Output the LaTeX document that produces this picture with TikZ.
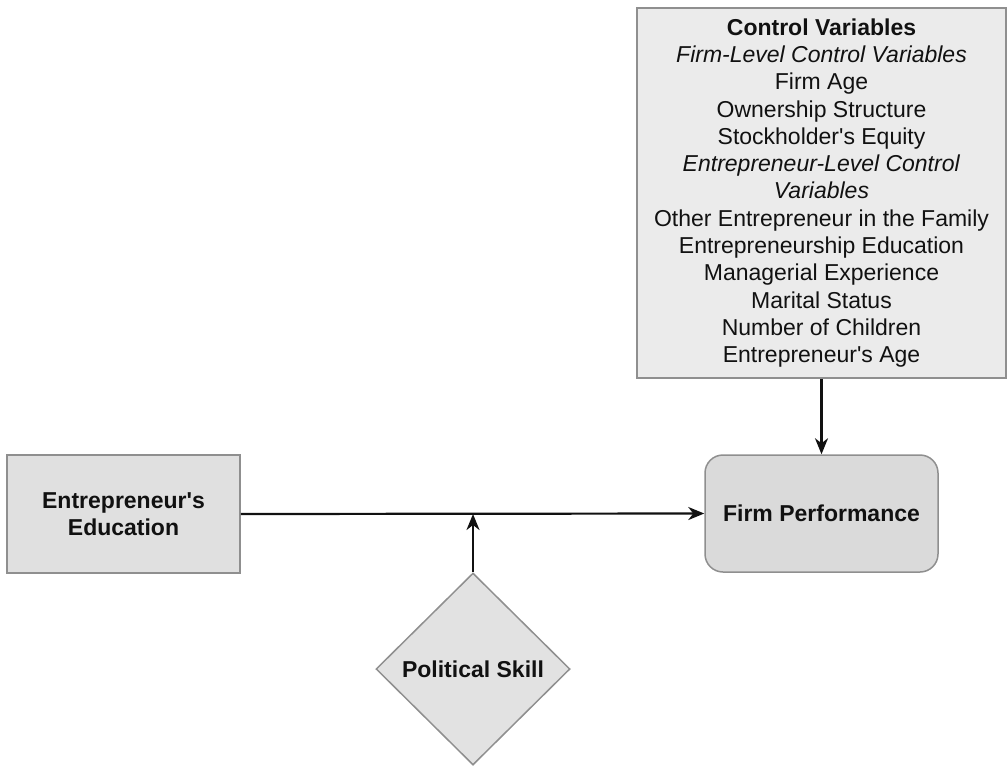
\documentclass[tikz,border=0pt]{standalone}
\usepackage{fontspec}
\setmainfont{Liberation Sans}
\usetikzlibrary{arrows.meta,shapes.geometric}
\definecolor{boxborder}{HTML}{8F8F8F}
\definecolor{ctrlfill}{HTML}{EBEBEB}
\definecolor{edufill}{HTML}{E0E0E0}
\definecolor{perffill}{HTML}{DADADA}
\definecolor{skillfill}{HTML}{E2E2E2}
\definecolor{linecol}{HTML}{111111}
\newcommand{\sq}{\textquotesingle}
\begin{document}
\begin{tikzpicture}[x=1pt,y=-1pt,
  box/.style={draw=boxborder, line width=1.5pt, inner sep=0pt, align=center,
    text=linecol, font=\fontsize{23}{27.3}\selectfont},
  conn/.style={draw=linecol, line width=2.2pt, -{Stealth[length=16pt,width=13pt,inset=5pt]}}]
\useasboundingbox (0,0) rectangle (1008,765);
\node[box, fill=ctrlfill, minimum width=369pt, minimum height=370pt] (ctrl) at (821.5,193)
  {\textbf{Control Variables}\\
   \textit{Firm-Level Control Variables}\\
   Firm Age\\
   Ownership Structure\\
   Stockholder\sq s Equity\\
   \textit{Entrepreneur-Level Control}\\
   \textit{Variables}\\
   Other Entrepreneur in the Family\\
   Entrepreneurship Education\\
   Managerial Experience\\
   Marital Status\\
   Number of Children\\
   Entrepreneur\sq s Age};
\node[box, fill=edufill, minimum width=233pt, minimum height=118pt, font=\fontsize{23}{27.3}\selectfont\bfseries] (edu) at (123.5,514)
  {Entrepreneur\sq s\\Education};
\node[box, fill=perffill, rounded corners=18pt, minimum width=233pt, minimum height=117pt, font=\fontsize{23}{27.3}\selectfont\bfseries] (perf) at (821.5,513.5)
  {Firm Performance};
\node[box, diamond, aspect=1, fill=skillfill, minimum width=194pt, minimum height=192pt, font=\fontsize{23}{27.3}\selectfont\bfseries] (skill) at (473,669)
  {Political Skill};
\coordinate (j) at (473,514);
\draw[conn] (edu.east) -- (perf.west);
\draw[conn] (ctrl.south) -- (perf.north);
\draw[conn] (skill.north) -- (j);
\end{tikzpicture}
\end{document}
